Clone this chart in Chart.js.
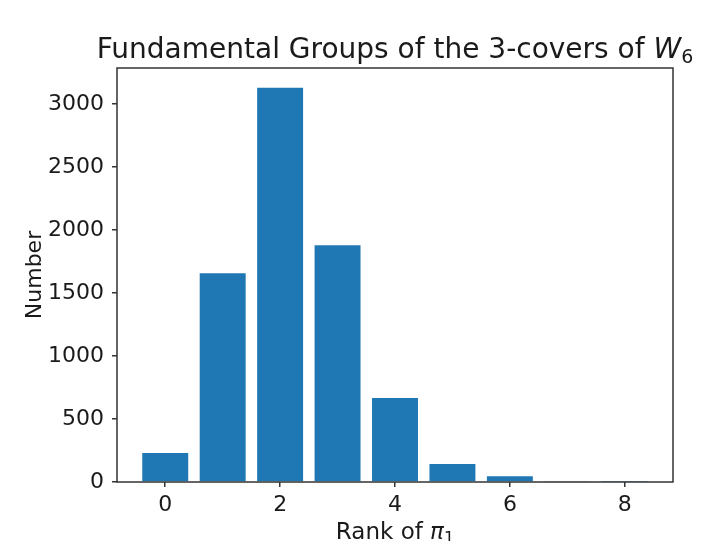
<!DOCTYPE html>
<html>
<head>
<meta charset="utf-8">
<script src="https://cdn.jsdelivr.net/npm/chart.js@4/dist/chart.umd.min.js"></script>
<style>
  html, body { margin: 0; padding: 0; background: #fff; overflow: hidden; }
  canvas { display: block; }
</style>
</head>
<body>
<canvas id="myChart" width="707" height="541"></canvas>
<script>
// ranks of pi_1 and how many 3-covers have each rank
let ranks = [0, 1, 2, 3, 4, 5, 6, 7, 8];
let counts = [230, 1657, 3130, 1880, 667, 143, 45, 4, 1];
let xTicks = [0, 2, 4, 6, 8];
let yTicks = [0, 500, 1000, 1500, 2000, 2500, 3000];

let font = "'DejaVu Sans', sans-serif";
let textColor = '#1a1a1a';
let axisColor = '#333333';

// draws a row of text pieces (different fonts / offsets) centered on cx
function drawPieces(ctx, pieces, cx, y) {
  let total = 0;
  pieces.forEach(p => {
    ctx.font = p.font;
    p.w = ctx.measureText(p.text).width;
    total += p.w;
  });
  let x = cx - total / 2;
  ctx.textAlign = 'left';
  ctx.textBaseline = 'alphabetic';
  ctx.fillStyle = textColor;
  pieces.forEach(p => {
    ctx.font = p.font;
    ctx.fillText(p.text, x, y + (p.dy || 0));
    x += p.w;
  });
}

let framePlugin = {
  id: 'frame',
  afterDraw(chart) {
    let ctx = chart.ctx;
    let a = chart.chartArea;
    ctx.save();
    ctx.strokeStyle = axisColor;
    ctx.lineWidth = 1.5;
    ctx.strokeRect(a.left, a.top, a.right - a.left, a.bottom - a.top);

    let cx = (a.left + a.right) / 2;
    drawPieces(ctx, [
      {text: 'Fundamental Groups of the 3-covers of ', font: '28px ' + font},
      {text: 'W', font: 'italic 28px ' + font},
      {text: '6', font: '19px ' + font, dy: 5}
    ], cx, a.top - 10);

    drawPieces(ctx, [
      {text: 'Rank of ', font: '23px ' + font},
      {text: 'π', font: 'italic 23px ' + font},
      {text: '1', font: '16px ' + font, dy: 4}
    ], cx, a.bottom + 57);
    ctx.restore();
  }
};

let chart = new Chart(document.getElementById('myChart'), {
  type: 'bar',
  data: {
    datasets: [{
      data: ranks.map((r, i) => ({x: r, y: counts[i]})),
      backgroundColor: '#1f77b4',
      borderWidth: 0,
      categoryPercentage: 1,
      barPercentage: 0.8
    }]
  },
  options: {
    responsive: false,
    animation: false,
    layout: {padding: {left: 0, top: 68, right: 34, bottom: 0}},
    plugins: {legend: {display: false}, tooltip: {enabled: false}},
    scales: {
      x: {
        type: 'linear',
        offset: false,
        bounds: 'data',
        min: -0.84,
        max: 8.84,
        afterBuildTicks: s => { s.ticks = xTicks.map(v => ({value: v})); },
        afterFit: s => { s.height = 59; },
        grid: {offset: false, drawOnChartArea: false, drawTicks: true, tickLength: 5, color: axisColor, lineWidth: 1.5},
        border: {display: false},
        ticks: {padding: 5, color: textColor, font: {family: font, size: 22}, maxRotation: 0, callback: v => String(v)}
      },
      y: {
        min: 0,
        max: Math.max(...counts) * 1.05,
        bounds: 'data',
        afterBuildTicks: s => { s.ticks = yTicks.map(v => ({value: v})); },
        afterFit: s => { s.width = 117; },
        grid: {drawOnChartArea: false, drawTicks: true, tickLength: 5, color: axisColor, lineWidth: 1.5},
        border: {display: false},
        ticks: {padding: 8, color: textColor, font: {family: font, size: 22}, callback: v => String(v)},
        title: {
          display: true,
          text: 'Number',
          color: textColor,
          font: {family: font, size: 22},
          padding: {top: 22, bottom: 0}
        }
      }
    }
  },
  plugins: [framePlugin]
});
</script>
</body>
</html>
